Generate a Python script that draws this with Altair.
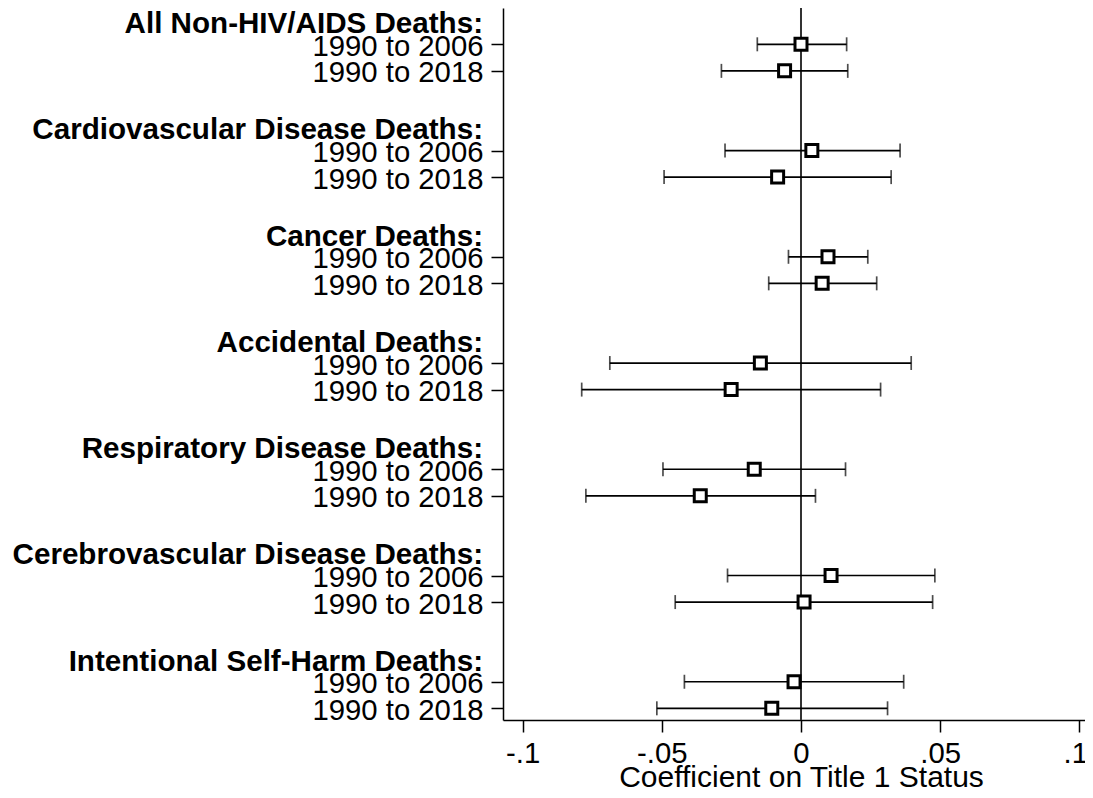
import altair as alt
import pandas as pd

# ---- data ----
groups = [
    "All Non-HIV/AIDS Deaths:",
    "Cardiovascular Disease Deaths:",
    "Cancer Deaths:",
    "Accidental Deaths:",
    "Respiratory Disease Deaths:",
    "Cerebrovascular Disease Deaths:",
    "Intentional Self-Harm Deaths:",
]
periods = ["1990 to 2006", "1990 to 2018"]

coef_2006 = [0.0000, 0.0039, 0.0097, -0.0146, -0.0168, 0.0108, -0.0025]
lo_2006 = [-0.0157, -0.0273, -0.0045, -0.0687, -0.0496, -0.0264, -0.0419]
hi_2006 = [0.0164, 0.0356, 0.0240, 0.0396, 0.0160, 0.0481, 0.0369]

coef_2018 = [-0.0059, -0.0084, 0.0076, -0.0251, -0.0362, 0.0011, -0.0105]
lo_2018 = [-0.0286, -0.0492, -0.0116, -0.0788, -0.0773, -0.0452, -0.0518]
hi_2018 = [0.0168, 0.0324, 0.0272, 0.0286, 0.0052, 0.0473, 0.0311]

x_ticks = [-0.1, -0.05, 0.0, 0.05, 0.1]
x_tick_labels = ["-.1", "-.05", "0", ".05", ".1"]
x_title = "Coefficient on Title 1 Status"

# ---- tables ----
rows = []
for g, name in enumerate(groups):
    for r, (c, lo, hi) in enumerate([
        (coef_2006[g], lo_2006[g], hi_2006[g]),
        (coef_2018[g], lo_2018[g], hi_2018[g]),
    ]):
        rows.append({"slot": 4 * g + 1 + r, "period": periods[r],
                     "coef": c, "lo": lo, "hi": hi})
df = pd.DataFrame(rows)
hdf = pd.DataFrame({"slot": [4 * g + 0.24 for g in range(len(groups))],
                    "header": groups})

row_slots = [int(s) for s in df["slot"]]
y_label_expr = "(datum.value % 4 == 1) ? '" + periods[0] + "' : '" + periods[1] + "'"
x_label_expr = " : ".join(
    "datum.value == " + str(v) + " ? '" + l + "'" for v, l in zip(x_ticks, x_tick_labels)
) + " : ''"

FONT = "Liberation Sans"
FS = 29.3

xscale = alt.Scale(domain=[-0.10708, 0.10205], nice=False, zero=False)
yscale = alt.Scale(domain=[-0.367, 26.44], reverse=True, nice=False, zero=False)

x_axis = alt.Axis(values=x_ticks, labelExpr=x_label_expr, title=x_title,
                  tickSize=12, labelPadding=7, labelOverlap=False, labelFlush=False,
                  labelOffset={"condition": {"test": "datum.value > 0.09", "value": -4},
                               "value": 0},
                  titleX=298, titleAlign="center",
                  titleY=42, titleBaseline="top", titleFontWeight="normal",
                  titleFont=FONT, titleFontSize=30, titleColor="black")
y_axis = alt.Axis(values=row_slots, labelExpr=y_label_expr, title=None,
                  tickSize=12, labelPadding=8, labelOffset=2,
                  labelOverlap=False, labelFlush=False)

base = alt.Chart(df)

zero = alt.Chart(pd.DataFrame({"z": [0.0]})).mark_rule(
    color="#333333", strokeWidth=2
).encode(x=alt.X("z:Q", scale=xscale, axis=x_axis))

ci = base.mark_rule(color="black", strokeWidth=1.7).encode(
    x=alt.X("lo:Q", scale=xscale, axis=x_axis),
    x2="hi:Q",
    y=alt.Y("slot:Q", scale=yscale, axis=y_axis),
)
cap_lo = base.mark_tick(color="black", thickness=1.7, size=14, orient="vertical").encode(
    x=alt.X("lo:Q", scale=xscale), y=alt.Y("slot:Q", scale=yscale)
)
cap_hi = base.mark_tick(color="black", thickness=1.7, size=14, orient="vertical").encode(
    x=alt.X("hi:Q", scale=xscale), y=alt.Y("slot:Q", scale=yscale)
)
pts = base.mark_point(shape="square", size=144, filled=True, fill="white",
                      stroke="black", strokeWidth=3, opacity=1).encode(
    x=alt.X("coef:Q", scale=xscale), y=alt.Y("slot:Q", scale=yscale)
)
heads = alt.Chart(hdf).mark_text(align="right", baseline="middle",
                                 font=FONT, fontSize=29.6, fontWeight="bold",
                                 color="black").encode(
    x=alt.value(-20), y=alt.Y("slot:Q", scale=yscale), text="header:N"
)

chart = alt.layer(zero, ci, cap_lo, cap_hi, pts, heads).properties(
    width=582, height=712,
    background="white",
    autosize=alt.AutoSizeParams(type="none"),
    padding={"left": 495, "top": 0, "right": 0, "bottom": 70},
).configure_view(stroke=None).configure_axis(
    grid=False, domainColor="black", domainWidth=1.5, tickColor="black",
    tickWidth=1.5, labelColor="black", labelFont=FONT, labelFontSize=FS,
)

chart.save("out.html", embed_options={"renderer": "svg", "actions": False})
